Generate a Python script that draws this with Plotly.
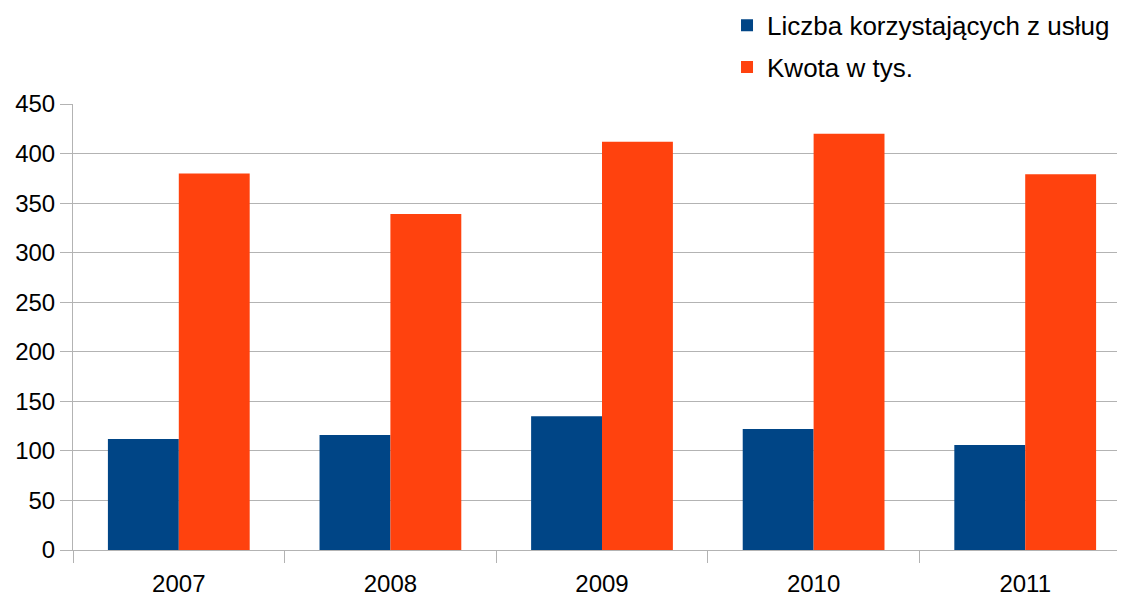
import plotly.graph_objects as go

years = ["2007", "2008", "2009", "2010", "2011"]
liczba = [112, 116, 135, 122, 106]
kwota = [380, 339, 412, 420, 379]
y_ticks = [0, 50, 100, 150, 200, 250, 300, 350, 400, 450]

font_family = "Liberation Sans, Arial, sans-serif"

fig = go.Figure()
fig.add_trace(go.Bar(x=years, y=liczba, name="Liczba korzystających z usług",
                     marker=dict(color="#004586", line=dict(width=0)), legendgroup="a"))
fig.add_trace(go.Bar(x=years, y=kwota, name="Kwota w tys.",
                     marker=dict(color="#ff420e", line=dict(width=0)), legendgroup="b"))

fig.update_layout(
    width=1117, height=589,
    margin=dict(l=65, r=0, t=96, b=47, autoexpand=False),
    paper_bgcolor="white", plot_bgcolor="white",
    barmode="group", bargap=0.33, bargroupgap=0,
    font=dict(family=font_family, size=24, color="#000000"),
    legend=dict(x=0.6437, xanchor="left", xref="container",
                y=1.229, yanchor="top", yref="paper",
                orientation="v", traceorder="grouped", tracegroupgap=5,
                font=dict(size=26), bgcolor="rgba(0,0,0,0)", itemwidth=30),
    showlegend=True,
)
fig.update_xaxes(
    type="category", range=[-0.5, 4.4716], tickson="boundaries",
    ticks="outside", ticklen=12, tickcolor="#b3b3b3", tickwidth=1,
    showline=True, linecolor="#b3b3b3", linewidth=1, ticklabelstandoff=12,
    showgrid=False, tickfont=dict(size=24), fixedrange=True, automargin=False,
)
fig.update_yaxes(
    range=[0, 450], tickvals=y_ticks, ticks="outside", ticklen=12,
    tickcolor="#b3b3b3", tickwidth=1, showline=True, linecolor="#b3b3b3", linewidth=1,
    showgrid=True, gridcolor="#b3b3b3", gridwidth=1, zeroline=False,
    tickfont=dict(size=24), automargin=False,
)
fig.write_html("out.html")
